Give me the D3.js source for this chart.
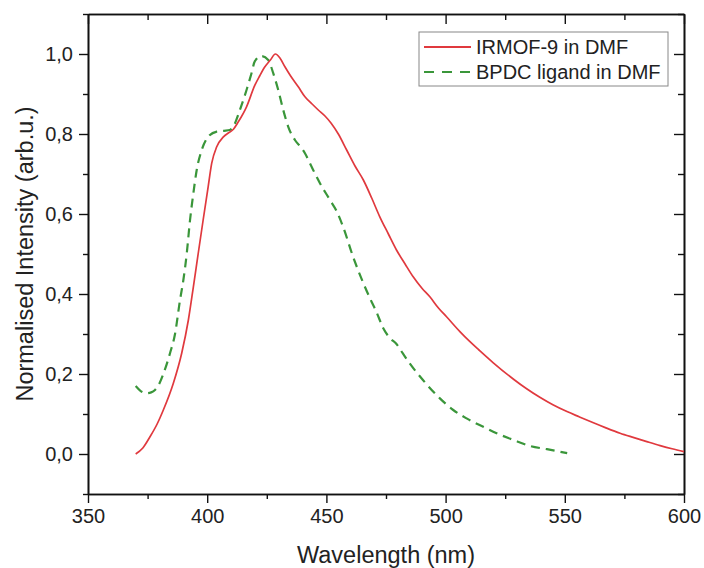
<!DOCTYPE html>
<html>
<head>
<meta charset="utf-8">
<script src="https://cdn.jsdelivr.net/npm/d3@7"></script>
<style>
  html, body { margin: 0; padding: 0; background: #fff; }
  svg { display: block; font-family: "Liberation Sans", Arial, sans-serif; }
</style>
</head>
<body>
<svg id="chart" width="704" height="568"></svg>
<script>
// ---- Data ----
const seriesNames = ["IRMOF-9 in DMF", "BPDC ligand in DMF"];

const irmofWavelength = [370, 373, 376, 379, 381.6, 385.8, 389.3, 392.1, 394.2, 396.2, 398.3, 400.4, 401.9,
  404, 406.8, 409, 411, 413, 416.5, 420, 422, 424.2, 426.5, 428.6, 430.5, 432.6, 435, 438.2, 441, 444,
  446.6, 449.4, 452, 455, 458.5, 462, 465.5, 469, 472.4, 476, 479.4, 483, 486.4, 490, 493.4, 497, 500.4,
  506, 510, 514, 520, 528.5, 534, 539.7, 545, 550.9, 556, 562, 567, 573.2, 579, 584.4, 590, 595, 600];
const irmofIntensity = [0.0, 0.015, 0.043, 0.075, 0.11, 0.177, 0.252, 0.335, 0.418, 0.50, 0.585, 0.668, 0.727,
  0.768, 0.793, 0.803, 0.812, 0.83, 0.868, 0.922, 0.945, 0.968, 0.985, 1.0, 0.99, 0.968, 0.945, 0.918, 0.893, 0.875,
  0.86, 0.845, 0.827, 0.80, 0.76, 0.72, 0.685, 0.64, 0.593, 0.55, 0.51, 0.475, 0.443, 0.415, 0.393, 0.365, 0.343,
  0.306, 0.282, 0.26, 0.228, 0.187, 0.163, 0.141, 0.123, 0.106, 0.093, 0.078, 0.066, 0.052, 0.041, 0.031, 0.021, 0.013, 0.006];

const bpdcWavelength = [370, 372, 374.6, 376.5, 378.1, 380, 381.6, 384.4, 386.5, 388.6, 390, 391.4, 392.8,
  394.2, 395.6, 397.7, 400.4, 404, 407, 409.5, 411.5, 413.7, 416.5, 418.5, 420, 422.8, 425.6, 427.7, 429.8,
  431.9, 434, 436.8, 439.6, 441, 443.8, 447.3, 451.5, 454.3, 457, 461.2, 465.5, 469, 471, 473.8, 476.6,
  479.4, 482, 484.9, 490.5, 497.6, 503.2, 508.8, 515.8, 521.4, 528.5, 535.5, 542.5, 551];
const bpdcIntensity = [0.17, 0.158, 0.152, 0.154, 0.16, 0.177, 0.20, 0.252, 0.30, 0.385, 0.435, 0.50, 0.585,
  0.652, 0.71, 0.76, 0.793, 0.806, 0.808, 0.81, 0.825, 0.86, 0.91, 0.95, 0.982, 0.995, 0.985, 0.952, 0.91,
  0.86, 0.818, 0.785, 0.765, 0.752, 0.718, 0.677, 0.635, 0.607, 0.568, 0.493, 0.427, 0.38, 0.355, 0.315, 0.29,
  0.275, 0.252, 0.227, 0.185, 0.139, 0.11, 0.089, 0.068, 0.052, 0.035, 0.02, 0.012, 0.002];

const xMajorTicks = [350, 400, 450, 500, 550, 600];
const xMinorTicks = [375, 425, 475, 525, 575];
const yMajorTicks = [0.0, 0.2, 0.4, 0.6, 0.8, 1.0];
const yMinorTicks = [-0.1, 0.1, 0.3, 0.5, 0.7, 0.9, 1.1];

const xTitle = "Wavelength (nm)";
const yTitle = "Normalised Intensity (arb.u.)";

// ---- Layout ----
const svg = d3.select("#chart");
const margin = {left: 88, right: 20, top: 14, bottom: 74};
const W = 704, H = 568;
const iw = W - margin.left - margin.right;
const ih = H - margin.top - margin.bottom;

const x = d3.scaleLinear().domain([350, 600]).range([margin.left, margin.left + iw]);
const y = d3.scaleLinear().domain([-0.1, 1.1]).range([margin.top + ih, margin.top]);

const fmtY = d => d3.format(".1f")(d).replace(".", ",");

function styleAxis(g, fontSize) {
  g.selectAll(".domain").attr("stroke", "#111").attr("stroke-width", 1.6);
  g.selectAll(".tick line").attr("stroke", "#111").attr("stroke-width", 1.4);
  g.selectAll(".tick text").attr("fill", "#222").style("font-size", fontSize + "px")
    .style("font-family", '"Liberation Sans", Arial, sans-serif');
}

// Bottom axis (outward)
const gB = svg.append("g").attr("transform", `translate(0,${margin.top + ih})`)
  .call(d3.axisBottom(x).tickValues(xMajorTicks).tickFormat(d3.format("d")).tickSizeInner(9).tickSizeOuter(0).tickPadding(6));
styleAxis(gB, 20);
const gBm = svg.append("g").attr("transform", `translate(0,${margin.top + ih})`)
  .call(d3.axisBottom(x).tickValues(xMinorTicks).tickFormat("").tickSizeInner(5).tickSizeOuter(0));
styleAxis(gBm, 20);

// Top axis (inward)
const gT = svg.append("g").attr("transform", `translate(0,${margin.top})`)
  .call(d3.axisTop(x).tickValues(xMajorTicks).tickFormat("").tickSizeInner(-10).tickSizeOuter(0));
styleAxis(gT, 20);
const gTm = svg.append("g").attr("transform", `translate(0,${margin.top})`)
  .call(d3.axisTop(x).tickValues(xMinorTicks).tickFormat("").tickSizeInner(-6).tickSizeOuter(0));
styleAxis(gTm, 20);

// Left axis (outward)
const gL = svg.append("g").attr("transform", `translate(${margin.left},0)`)
  .call(d3.axisLeft(y).tickValues(yMajorTicks).tickFormat(fmtY).tickSizeInner(9).tickSizeOuter(0).tickPadding(6));
styleAxis(gL, 20);
const gLm = svg.append("g").attr("transform", `translate(${margin.left},0)`)
  .call(d3.axisLeft(y).tickValues(yMinorTicks).tickFormat("").tickSizeInner(5).tickSizeOuter(0));
styleAxis(gLm, 20);

// Right axis (inward)
const gR = svg.append("g").attr("transform", `translate(${margin.left + iw},0)`)
  .call(d3.axisRight(y).tickValues(yMajorTicks).tickFormat("").tickSizeInner(-10).tickSizeOuter(0));
styleAxis(gR, 20);
const gRm = svg.append("g").attr("transform", `translate(${margin.left + iw},0)`)
  .call(d3.axisRight(y).tickValues(yMinorTicks).tickFormat("").tickSizeInner(-6).tickSizeOuter(0));
styleAxis(gRm, 20);

// ---- Lines ----
const line = d3.line().x(d => x(d[0])).y(d => y(d[1])).curve(d3.curveMonotoneX);
const irmofData = irmofWavelength.map((w, i) => [w, irmofIntensity[i]]);
const bpdcData = bpdcWavelength.map((w, i) => [w, bpdcIntensity[i]]);

const red = "#e0393e", green = "#3a963a";

svg.append("path").datum(bpdcData).attr("d", line)
  .attr("fill", "none").attr("stroke", green).attr("stroke-width", 2.2)
  .attr("stroke-dasharray", "9,6");
svg.append("path").datum(irmofData).attr("d", line)
  .attr("fill", "none").attr("stroke", red).attr("stroke-width", 1.7);

// ---- Titles ----
svg.append("text").attr("x", x(475)).attr("y", 563).attr("text-anchor", "middle")
  .style("font-size", "23.5px").attr("fill", "#222").text(xTitle);
svg.append("text").attr("transform", `translate(33,${y(0.5)}) rotate(-90)`)
  .attr("text-anchor", "middle").style("font-size", "23.5px").attr("fill", "#222").text(yTitle);

// ---- Legend ----
const leg = svg.append("g");
leg.append("rect").attr("x", 419).attr("y", 32).attr("width", 249).attr("height", 54)
  .attr("fill", "#fff").attr("stroke", "#888").attr("stroke-width", 1);
const legItems = [
  {name: seriesNames[0], color: red, dash: null, w: 1.9},
  {name: seriesNames[1], color: green, dash: "10,8", w: 2.2}
];
legItems.forEach((it, i) => {
  const cy = 47 + i * 25;
  leg.append("line").attr("x1", 424).attr("x2", 471).attr("y1", cy).attr("y2", cy)
    .attr("stroke", it.color).attr("stroke-width", it.w)
    .attr("stroke-dasharray", it.dash);
  leg.append("text").attr("x", 476).attr("y", cy).attr("dy", "0.35em")
    .style("font-size", "20px").attr("fill", "#222").text(it.name);
});
</script>
</body>
</html>
